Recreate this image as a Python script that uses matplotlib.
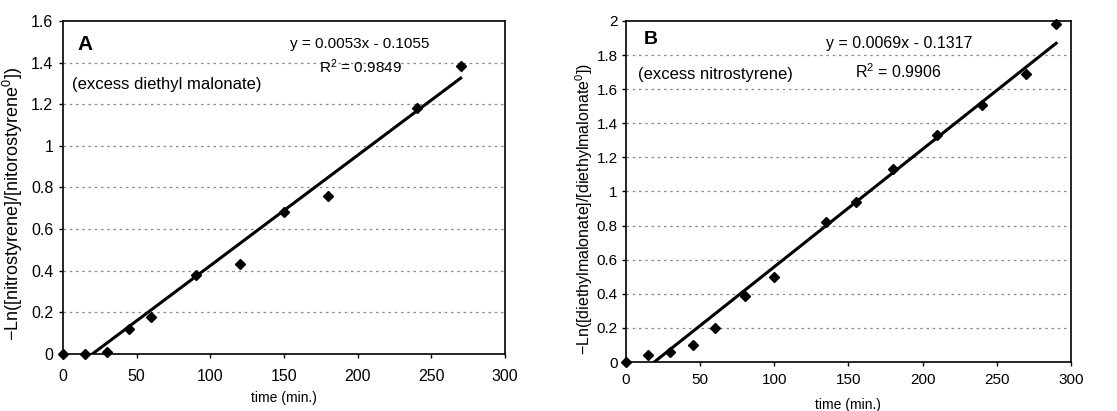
import matplotlib
matplotlib.use('Agg')
import matplotlib.pyplot as plt
import numpy as np

plt.rcParams['font.family'] = ['Liberation Sans', 'DejaVu Sans']
plt.rcParams['mathtext.fontset'] = 'custom'
plt.rcParams['mathtext.rm'] = 'Liberation Sans'
plt.rcParams['mathtext.it'] = 'Liberation Sans'

# panel A: excess diethyl malonate
tA = [0, 15, 30, 45, 60, 90, 120, 150, 180, 240, 270]
yA = [0, 0, 0.01, 0.12, 0.18, 0.38, 0.43, 0.68, 0.76, 1.18, 1.385]
slopeA, icptA = 0.0053, -0.1055

# panel B: excess nitrostyrene
tB = [0, 15, 30, 45, 60, 80, 100, 135, 155, 180, 210, 240, 270, 290]
yB = [0, 0.04, 0.06, 0.10, 0.20, 0.39, 0.50, 0.82, 0.94, 1.13, 1.33, 1.51, 1.69, 1.98]
slopeB, icptB = 0.0069, -0.1317

fig = plt.figure(figsize=(11.17, 4.11), dpi=100)
axA = fig.add_axes([0.0564, 0.1387, 0.3956, 0.8103])
axB = fig.add_axes([0.5604, 0.1192, 0.3984, 0.8298])


def panel(ax, t, y, slope, icpt, ymax, ystep, letter, note, eq, r2, pos, fs):
    ax.plot(t, y, 'D', color='black', markersize=5, zorder=3, clip_on=False)
    xf = np.array([0, t[-1]])
    ax.plot(xf, slope * xf + icpt, color='black', lw=2.2, zorder=2)
    ax.set_xlim(0, 300)
    ax.set_ylim(0, ymax)
    ax.set_xticks(range(0, 301, 50))
    yt = np.round(np.arange(0, ymax + 1e-9, ystep), 1)
    ax.set_yticks(yt)
    ax.set_yticklabels(['%g' % v for v in yt])
    for v in yt[1:-1]:
        ax.axhline(v, color='#888888', ls=(0, (2, 3)), lw=0.9, zorder=1)
    ax.tick_params(direction='out', length=3, width=1, labelsize=fs['tick'])
    ax.tick_params(axis='x', pad=fs['xpad'])
    ax.tick_params(axis='y', pad=fs['ypad'])
    for s in ax.spines.values():
        s.set_linewidth(1.2)
    ax.text(pos[0][0], pos[0][1], letter, transform=ax.transAxes, fontsize=fs['letter'],
            fontweight='bold', ha='left', va='center')
    ax.text(pos[1][0], pos[1][1], note, transform=ax.transAxes, fontsize=fs['note'],
            ha='left', va='center')
    ax.text(pos[2][0], pos[2][1], eq, transform=ax.transAxes, fontsize=fs['eq'],
            ha='center', va='center')
    ax.text(pos[3][0], pos[3][1], r2, transform=ax.transAxes, fontsize=fs['eq'],
            ha='center', va='center')


panel(axA, tA, yA, slopeA, icptA, 1.6, 0.2, 'A', '(excess diethyl malonate)',
      'y = 0.0053x - 0.1055', r'R$^2$ = 0.9849',
      [(0.032, 0.928), (0.020, 0.81), (0.672, 0.931), (0.672, 0.862)],
      dict(tick=11.5, xpad=8, ypad=4, letter=15, note=12, eq=11))
axA.set_xlabel('time (min.)', fontsize=10, va='center')
axA.xaxis.set_label_coords(0.501, -0.132)
axA.set_ylabel(r'$-$Ln([nitrostyrene]/[nitorostyrene$^0$])', fontsize=13, va='center')
axA.yaxis.set_label_coords(-0.113, 0.45)

panel(axB, tB, yB, slopeB, icptB, 2.0, 0.2, 'B', '(excess nitrostyrene)',
      'y = 0.0069x - 0.1317', r'R$^2$ = 0.9906',
      [(0.040, 0.945), (0.027, 0.842), (0.613, 0.935), (0.612, 0.85)],
      dict(tick=11, xpad=5, ypad=3, letter=14, note=12, eq=11.5))
axB.set_xlabel('time (min.)', fontsize=10, va='center')
axB.xaxis.set_label_coords(0.499, -0.126)
axB.set_ylabel(r'$-$Ln([diethylmalonate]/[diethylmalonate$^0$])', fontsize=11.5, va='center')
axB.yaxis.set_label_coords(-0.094, 0.45)

fig.savefig('out.png', dpi=100)
